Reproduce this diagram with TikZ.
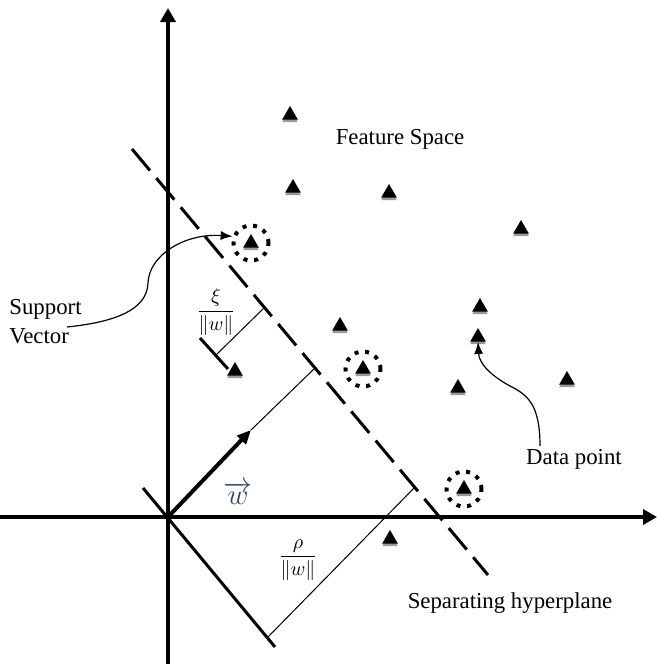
\documentclass[tikz,border=0pt]{standalone}
\usepackage{amsmath,amssymb}
\usepackage{fontspec}
\setmainfont{Liberation Serif}
\usepackage{tikz}
\usetikzlibrary{arrows.meta,shapes.geometric,shadows}
\definecolor{wblue}{RGB}{45,70,105}

\begin{document}
\begin{tikzpicture}[x=0.5pt, y=-0.5pt,
    axis/.style={line width=2pt, -{Triangle[length=7pt,width=7.5pt]}},
    datapt/.style={regular polygon, regular polygon sides=3, fill=black, minimum size=9pt, inner sep=0pt,
        drop shadow={shadow xshift=0pt, shadow yshift=-1.3pt, fill=gray!80, opacity=1}},
    svring/.style={circle, draw, line width=2pt, dash pattern=on 2pt off 3.34pt, minimum size=17.5pt, inner sep=0pt},
    lbl/.style={font=\fontsize{11.4}{14.5}\selectfont, inner sep=0pt},
    frc/.style={font=\fontsize{10}{12}\selectfont, inner sep=0pt},
    pointer/.style={line width=0.6pt, -{Latex[length=6pt,width=4.5pt]}}]

    \useasboundingbox (0,0) rectangle (657,664);

    \coordinate (O) at (168,517);
    \coordinate (xl) at (0,517);
    \coordinate (xr) at (657,517);
    \coordinate (yb) at (168,664);
    \coordinate (yt) at (168,8);
    \draw[axis] (xl) -- (xr);
    \draw[axis] (yb) -- (yt);

    \coordinate (h1) at (132,149);
    \coordinate (h2) at (488,575);
    \draw[line width=1.5pt, dash pattern=on 14pt off 5pt] (h1) -- (h2);

    \coordinate (wtip) at (251,430);
    \coordinate (wfoot) at (315,368);
    \draw[line width=2pt, -{Triangle[length=7pt,width=6pt]}] (O) -- (wtip);
    \draw[line width=0.5pt] (wtip) -- (wfoot);

    \coordinate (r1) at (143,488);
    \coordinate (r2) at (275,647);
    \coordinate (rb) at (268,637);
    \coordinate (rt) at (415,487);
    \draw[line width=1.5pt] (r1) -- (r2);
    \draw[line width=0.5pt] (rb) -- (rt);

    \coordinate (k1) at (200,338);
    \coordinate (k2) at (228,369);
    \coordinate (kb) at (216,355);
    \coordinate (kt) at (264,308);
    \draw[line width=1.5pt] (k1) -- (k2);
    \draw[line width=0.5pt] (kb) -- (kt);

    \node[datapt] (p1) at (290,115) {};
    \node[datapt] (p2) at (293,188) {};
    \node[datapt] (p3) at (389,193) {};
    \node[datapt] (p4) at (521,229) {};
    \node[datapt] (p5) at (480,307) {};
    \node[datapt] (p6) at (478,337) {};
    \node[datapt] (p7) at (340,326) {};
    \node[datapt] (p8) at (235,371) {};
    \node[datapt] (p9) at (458,388) {};
    \node[datapt] (p10) at (567,380) {};
    \node[datapt] (p11) at (390,539) {};

    \node[svring] (sv1) at (251,243) {};
    \node[datapt] (sv1t) at (sv1) {};
    \node[svring] (sv2) at (363,369) {};
    \node[datapt] (sv2t) at (sv2) {};
    \node[svring] (sv3) at (464,489) {};
    \node[datapt] (sv3t) at (sv3) {};

    \node[lbl] (fs) at (400,139) {Feature Space};
    \node[lbl, align=left, anchor=west] (svlab) at (9,322) {Support\\Vector};
    \node[lbl] (dplab) at (574,459) {Data point};
    \node[lbl] (hplab) at (510,603) {Separating hyperplane};
    \node[frc] (xifrac) at (216,312) {$\dfrac{\xi}{\|w\|}$};
    \node[frc] (rhofrac) at (298,560) {$\dfrac{\rho}{\|w\|}$};
    \node[font=\fontsize{13.5}{15}\selectfont, text=wblue, inner sep=0pt] (wlab) at (238,493) {$\overrightarrow{w}$};

    \coordinate (svfrom) at (67,327);
    \coordinate (dpfrom) at (540,446);
    \draw[pointer] (svfrom) .. controls (115,322) and (147,310) .. (148,283)
        .. controls (149,255) and (185,233) .. (sv1.160);
    \draw[pointer] (dpfrom) .. controls (540,405) and (528,395) .. (510,386)
        .. controls (488,374) and (479,362) .. (p6.south);
\end{tikzpicture}
\end{document}
